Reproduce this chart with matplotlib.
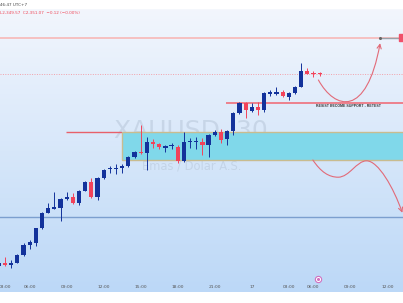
import numpy as np
import matplotlib.pyplot as plt
from matplotlib.path import Path
from matplotlib.patches import FancyArrowPatch, Rectangle
from matplotlib.colors import LinearSegmentedColormap

# XAUUSD 30m candles (bar index, price)
bar = np.arange(-1, 52)
opens = [2303.0, 2303.75, 2303.2, 2303.8, 2305.75, 2308.3, 2308.8, 2312.4, 2316.3, 2317.3,
         2317.6, 2319.7, 2320.2, 2318.7, 2321.8, 2324.1, 2320.2, 2324.9, 2327.2, 2327.3,
         2327.4, 2328.0, 2330.2, 2331.5, 2331.2, 2334.1, 2333.4, 2332.6, 2332.9, 2332.8,
         2329.3, 2334.0, 2334.0, 2334.1, 2333.25, 2335.75, 2336.4, 2334.7, 2336.75, 2341.2,
         2343.7, 2341.8, 2342.8, 2342.0, 2346.1, 2346.0, 2346.6, 2345.3, 2346.2, 2347.8,
         2351.75, 2351.05, 2351.1]
closes = [2303.8, 2303.2, 2303.7, 2305.75, 2308.25, 2308.9, 2312.4, 2316.3, 2317.4, 2317.7,
          2319.7, 2320.25, 2318.7, 2321.8, 2324.1, 2320.2, 2324.9, 2327.0, 2327.3, 2327.4,
          2328.0, 2330.2, 2331.4, 2331.2, 2334.1, 2333.4, 2332.7, 2332.75, 2333.1, 2329.3,
          2334.1, 2334.1, 2334.15, 2333.25, 2335.75, 2336.4, 2334.6, 2336.75, 2341.2, 2343.7,
          2342.0, 2342.8, 2342.0, 2346.2, 2346.25, 2346.6, 2345.5, 2346.2, 2347.8, 2351.75,
          2351.1, 2350.95, 2351.07]
highs = [2304.5, 2305.25, 2304.5, 2306.0, 2308.75, 2309.5, 2312.5, 2316.5, 2318.8, 2321.5,
         2320.0, 2321.6, 2321.2, 2322.0, 2324.25, 2324.9, 2325.25, 2327.25, 2328.0, 2328.5,
         2328.5, 2330.5, 2331.75, 2338.25, 2335.3, 2334.7, 2333.8, 2333.25, 2333.7, 2333.25,
         2336.6, 2334.9, 2335.2, 2334.9, 2336.0, 2337.0, 2337.2, 2337.0, 2341.5, 2344.1,
         2344.0, 2343.7, 2344.1, 2346.5, 2347.0, 2347.7, 2347.0, 2346.4, 2348.0, 2353.7,
         2352.4, 2351.75, 2351.6]
lows = [2302.5, 2303.0, 2302.4, 2303.75, 2305.5, 2307.25, 2308.0, 2312.25, 2316.25, 2317.25,
        2314.2, 2319.5, 2318.5, 2318.2, 2321.75, 2320.0, 2319.5, 2324.75, 2326.2, 2326.0,
        2326.2, 2327.75, 2330.0, 2331.0, 2327.0, 2332.4, 2332.2, 2331.6, 2332.2, 2328.7,
        2329.1, 2332.4, 2332.2, 2330.75, 2330.3, 2335.5, 2333.8, 2333.25, 2335.75, 2341.0,
        2339.9, 2341.4, 2340.75, 2341.6, 2345.6, 2345.75, 2345.25, 2344.5, 2346.0, 2347.75,
        2351.0, 2350.3, 2350.5]

tick_bars = [0, 4, 10, 16, 22, 28, 34, 40, 46, 50, 56, 62]
tick_labels = ["03:00", "06:00", "09:00", "12:00", "15:00", "18:00", "21:00", "17",
               "03:00", "06:00", "09:00", "12:00"]

# levels drawn on the chart
top_level = 2360.1
last_price = 2351.07
resist_level = 2343.8
zone_top, zone_bottom = 2336.4, 2329.4
zone_start = 18.9
old_high_start = 9.9
low_level = 2315.2
resist_start = 35.8

# projected paths (bezier control points)
up_path = [(50.8, 2349.5), (53.5, 2342.0), (58.6, 2340.0), (60.8, 2358.7)]
down_path = [(49.9, 2329.5), (51.2, 2326.5), (52.5, 2325.2), (54.0, 2325.2),
             (55.8, 2325.2), (57.0, 2329.3), (58.6, 2329.3),
             (60.5, 2329.3), (63.0, 2322.5), (64.4, 2316.3)]

up_col = "#13329b"
dn_col = "#f2435a"

fig = plt.figure(figsize=(4.03, 3.03), dpi=100)
ax = fig.add_axes([0, 11 / 303, 1, 292 / 303])
ax.set_xlim(-0.81, 64.51)
ax.set_ylim(2296.5, 2369.5)

# background gradient
grad = np.linspace(0, 1, 256).reshape(-1, 1)
cmap = LinearSegmentedColormap.from_list("bg", ["#bcd8f7", "#f4f7fd"])
ax.imshow(grad, cmap=cmap, aspect="auto", extent=[0, 1, 0, 1],
          transform=ax.transAxes, zorder=0, origin="lower")
ax.add_patch(Rectangle((0, 1 - 8 / 292), 1, 8 / 292, transform=ax.transAxes,
                       color="white", zorder=0.5))

# watermark
ax.text(30.2, 2336.7, "XAUUSD, 30", fontsize=18, color="#b4c3d6", alpha=0.5,
        ha="center", va="center", zorder=1)
ax.text(30.2, 2328.0, "Emas / Dolar A.S.", fontsize=8.3, color="#b4c3d6", alpha=0.5,
        ha="center", va="center", zorder=1)

# horizontal levels
ax.axhline(top_level, color="#f6bcbc", lw=1.3, zorder=1)
ax.axhline(last_price, color="#f3a0aa", lw=0.7, ls=(0, (1, 1.5)), zorder=1)
ax.axhline(low_level, color="#7c9fcf", lw=1.0, zorder=1)
ax.hlines(zone_top, old_high_start, zone_start, color="#e8606a", lw=1.0, zorder=2)
ax.hlines(resist_level, resist_start, 64.51, color="#ef6e7a", lw=1.2, zorder=2)
ax.add_patch(Rectangle((zone_start, zone_bottom), 70, zone_top - zone_bottom,
                       facecolor="#80d8ea", edgecolor="#c9bc8f", lw=1.0, zorder=2))
ax.text(55.75, resist_level - 0.8, "RESIST BECOME SUPPORT - RETEST", fontsize=2.5,
        fontweight="bold", color="#333333", ha="center", va="center", zorder=3,
        family="Liberation Sans")

# candles
o = np.array(opens)
c = np.array(closes)
cols = np.where(c >= o, up_col, dn_col)
body_low = np.minimum(o, c)
body_h = np.maximum(np.abs(c - o), 0.3)
ax.vlines(bar, lows, highs, colors=cols, lw=0.7, zorder=4)
ax.bar(bar, body_h, bottom=body_low, width=0.68, color=cols, zorder=5)

# target marker on the right
ax.hlines(top_level, 60.8, 64.51, color="#9aa0a8", lw=1.0, zorder=3)
ax.plot([60.8], [top_level], "o", color="#666666", ms=1.2, zorder=4)
ax.add_patch(Rectangle((63.85, top_level - 0.9), 2, 1.8, color="#f0506a", zorder=4))

# projection arrows
for pts in (up_path, down_path):
    codes = [Path.MOVETO] + [Path.CURVE4] * (len(pts) - 1)
    arr = FancyArrowPatch(path=Path(pts, codes), arrowstyle="->,head_length=3,head_width=1.5",
                          color="#e26a78", lw=0.8, zorder=6)
    ax.add_patch(arr)

# event marker
ax.plot([50.7], [2299.75], "o", mfc="white", mec="#d070c0", ms=4.5, mew=0.8, zorder=6)
ax.plot([50.7], [2299.75], "o", color="#d070c0", ms=1.2, zorder=7)

ax.set_xticks(tick_bars)
ax.set_xticklabels(tick_labels)
ax.tick_params(axis="x", length=0, pad=-4.8, labelsize=3.2, labelcolor="#555555")
ax.set_yticks([])
for s in ax.spines.values():
    s.set_visible(False)

fig.text(0.0, 1 - 5 / 303, "46:47 UTC+7", fontsize=3, color="#444444", va="center")
fig.text(0.0, 1 - 13 / 303, "L2,349.57  C2,351.07  \u22120.12 (\u22120.00%)", fontsize=3,
         color="#f04858", va="center")

fig.savefig("out.png", dpi=100)
